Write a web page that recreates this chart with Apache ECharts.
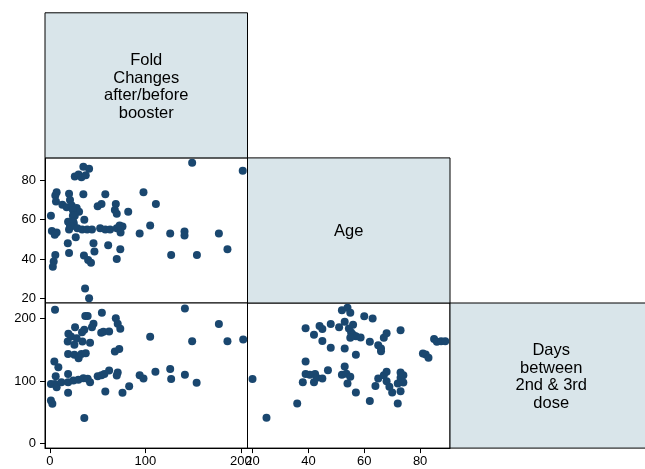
<!DOCTYPE html>
<html>
<head>
<meta charset="utf-8">
<script src="https://cdn.jsdelivr.net/npm/echarts@6/dist/echarts.min.js"></script>
<style>
html,body{margin:0;padding:0;background:#fff;}
#chart{width:645px;height:469px;}
</style>
</head>
<body>
<div id="chart"></div>
<script>
// Variable names shown on the diagonal
const varLabels = ['Fold\nChanges\nafter/before\nbooster', 'Age', 'Days\nbetween\n2nd & 3rd\ndose'];

// Tick labels
const foldTicks = [0, 100, 200];
const ageTicks = [20, 40, 60, 80];
const daysTicks = [0, 100, 200];

// Panel: Fold change (x) vs Age (y)
const foldVsAge = [
  [35,87],[41,86],[26,82],[30,83],[33,81.6],[37.5,82.6],
  [7,74],[5.6,72.4],[6.3,69.3],[20,73.2],[35,73],[58,73],
  [13,67.6],[17.5,66.3],[21,70],[22.8,67.3],[28,66],[30.5,64],[24,65],[26,62],[24,62],[21,57],[25,58],
  [50,66.8],[54,68],[69,68],[68,65],[70,63],[82,64],
  [1,62],[36,60],[19,59],[24.5,59],[22,56.6],[20,55],
  [2,54.3],[7,53.5],[5,52.3],[28.7,55.7],[33.7,55],[39,55],[44,55],[52.6,55.7],[58,55],[63,55],[70,55.7],[76,56.6],[74,53.5],[73,57],
  [27,51],[45.6,48],[46.6,43.8],[61,47],[73.7,45],[70,40],
  [18.7,48],[20,43],[5.6,42],[3.9,38.7],[3,36],
  [35.6,41.8],[40,39.5],[43,38],[36.8,25],[41,20],
  [94,53],[98,74],[105,57],[111,68],[126,53],[127,42],[141,54],[141,52],[149,89],[154,42],[177,53],[186,45],[202,85]
];

// Panel: Fold change (x) vs Days between 2nd & 3rd dose (y)
const foldVsDays = [
  [5.3,214],[37,204],[39.5,204],[54.4,209],[69,200.5],[71,191.4],[73.7,183.4],
  [45.6,191.4],[44,186],[26.3,186],[36,182],[33.6,178],[19.3,175.4],[22,171],
  [53.7,177],[56,178.8],[62,179],[18.6,163],[25.6,158],[28,168.5],[34,163],[42,161],
  [19,143],[25.6,141.8],[30,136.5],[33,143],[37.5,144.5],[68,147],[72.6,151],
  [4.6,131],[8.8,122],[6,107.7],[1,95],[5.3,95],[7,90],[12,98],[19,111],[19,98],[24.6,100.8],[29.8,102],
  [35,104.5],[39.5,103.7],[42,98],[50,107.7],[54,109],[57,111],[62,116.8],[71,113.6],[70,108.8],
  [83,91.7],[58,83],[76,81],[19,81],[1,68.7],[2.5,63.4],[36,40.5],
  [105,170.7],[94,109],[98,104],[110.5,114.7],[126,119],[127,103],[141.4,216],[141.4,110],
  [149,163.7],[153.7,97],[177,191],[186,163.7],[202.5,166.4]
];

// Panel: Age (x) vs Days between 2nd & 3rd dose (y)
const ageVsDays = [
  [20,103],[25,41],[36,64],[38,98],[39,131],[39,111],[40.5,110],[42,98],[42.4,111],[42,174],[43,105],
  [39,184.5],[44,188],[45,183],[45,164],[45,104],[47,117],[48,153],[48,191],[51,186],
  [52,213],[54,217],[55,209],[53,194.7],[53,152],[53,123],[52,110],[53.6,111.5],[55,106.7],[54,96],
  [57,81.6],[57,142],
  [54.5,184],[55.3,177.6],[56,174],[57,171.7],[58.7,169.6],[55,169],[56,190],
  [60,203.7],[63,200],[62,162.7],[65,157],[66,152],[66,147.7],[67,169],[68,176.5],[73,181],
  [65,104],[64,92],[62,68],[67,109],[68,114.7],[68,99.7],[69,90.7],[70,81.6],[72,96],
  [73,113.6],[73,105],[74,109],[74,97.6],[73,83.7],[72,64],
  [81,144],[82,142.4],[83,137],[85,167],[86,162.7],[87.5,163.7],[89,163.7]
];

// ---- layout ----
const X0 = 45, CW = 202.5, Y0 = 12.8, CH = 145.1;
const FONT = '"Liberation Sans", Arial, Helvetica, sans-serif';
const MARK = '#1a476f';
const DIAG = '#d9e5ea';

function cell(col, row) {
  return { left: X0 + col * CW, top: Y0 + row * CH, width: CW, height: CH };
}

const foldRange = { min: -5.2, max: 207 };
const ageRangeY = { min: 17.55, max: 91.5 };
const ageRangeX = { min: 18.2, max: 90.7 };
const daysRange = { min: -7.5, max: 224.8 };

function shownAxis(gridIndex, range, ticks, isY) {
  return {
    type: 'value', gridIndex: gridIndex, min: range.min, max: range.max,
    axisLine: { show: true, onZero: false, lineStyle: { color: '#000', width: 1 } },
    axisTick: { show: true, length: 5, customValues: ticks, lineStyle: { color: '#000', width: 1 } },
    axisLabel: { show: true, customValues: ticks, color: '#000', fontSize: 13, fontFamily: FONT,
                 margin: isY ? 9 : 7 },
    splitLine: { show: false }
  };
}
function hiddenAxis(gridIndex, range) {
  return {
    type: 'value', gridIndex: gridIndex, min: range.min, max: range.max,
    axisLine: { show: false }, axisTick: { show: false }, axisLabel: { show: false },
    splitLine: { show: false }
  };
}

const gA = cell(0, 1), gB = cell(0, 2), gC = cell(1, 2);
const gridStyle = { show: true, borderColor: '#000', borderWidth: 1, backgroundColor: '#fff', containLabel: false };

const diagCells = [cell(0, 0), cell(1, 1), cell(2, 2)];
const graphics = [];
diagCells.forEach(function (c, i) {
  graphics.push({
    type: 'rect', z: 1,
    shape: { x: c.left, y: c.top, width: c.width, height: c.height },
    style: { fill: DIAG, stroke: '#000', lineWidth: 1 }
  });
  graphics.push({
    type: 'text', z: 2,
    x: c.left + c.width / 2, y: c.top + c.height / 2 + 1.5,
    style: { text: varLabels[i], fill: '#000', fontSize: 16.5, fontFamily: FONT,
             lineHeight: 17.7, align: 'center', verticalAlign: 'middle' }
  });
});

const option = {
  animation: false,
  backgroundColor: '#fff',
  grid: [
    Object.assign({}, gA, gridStyle),
    Object.assign({}, gB, gridStyle),
    Object.assign({}, gC, gridStyle)
  ],
  xAxis: [
    hiddenAxis(0, foldRange),
    shownAxis(1, foldRange, foldTicks, false),
    shownAxis(2, ageRangeX, ageTicks, false)
  ],
  yAxis: [
    shownAxis(0, ageRangeY, ageTicks, true),
    shownAxis(1, daysRange, daysTicks, true),
    hiddenAxis(2, daysRange)
  ],
  series: [
    { type: 'scatter', xAxisIndex: 0, yAxisIndex: 0, data: foldVsAge, symbolSize: 8,
      itemStyle: { color: MARK, opacity: 1 }, clip: false },
    { type: 'scatter', xAxisIndex: 1, yAxisIndex: 1, data: foldVsDays, symbolSize: 8,
      itemStyle: { color: MARK, opacity: 1 }, clip: false },
    { type: 'scatter', xAxisIndex: 2, yAxisIndex: 2, data: ageVsDays, symbolSize: 8,
      itemStyle: { color: MARK, opacity: 1 }, clip: false }
  ],
  graphic: graphics
};

const chart = echarts.init(document.getElementById('chart'), null, { renderer: 'canvas' });
chart.setOption(option);
</script>
</body>
</html>
